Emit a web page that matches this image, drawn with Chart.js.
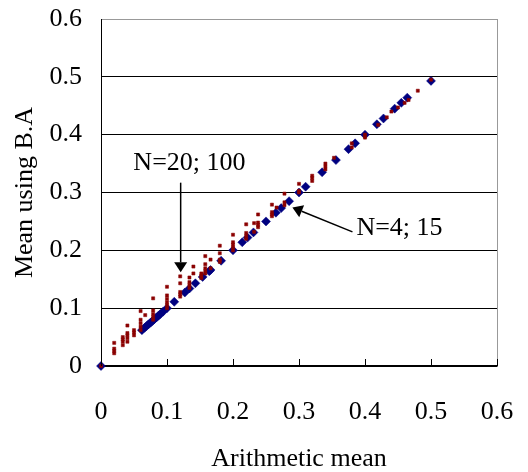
<!DOCTYPE html>
<html>
<head>
<meta charset="utf-8">
<script src="https://cdn.jsdelivr.net/npm/chart.js@4/dist/chart.umd.min.js"></script>
<style>
  html, body { margin: 0; padding: 0; background: #fff; }
  #wrap { width: 528px; height: 472px; }
</style>
</head>
<body>
<div id="wrap"><canvas id="meanChart" width="528" height="472"></canvas></div>
<script>
// valores
const tickValues = [0, 0.1, 0.2, 0.3, 0.4, 0.5, 0.6];

// N=4; 15 (losangos azuis, sobre a diagonal)
const blueX = [0, 0.062, 0.066, 0.069, 0.072, 0.075, 0.078, 0.081, 0.084, 0.087, 0.09, 0.094, 0.1,
  0.111, 0.127, 0.134, 0.143, 0.154, 0.164, 0.166, 0.182, 0.2, 0.214, 0.222, 0.231, 0.25,
  0.265, 0.273, 0.285, 0.3, 0.31, 0.335, 0.356, 0.375, 0.385, 0.4, 0.418, 0.428, 0.445,
  0.455, 0.464, 0.5];
const blueY = [0, 0.062, 0.066, 0.069, 0.072, 0.075, 0.078, 0.081, 0.084, 0.087, 0.09, 0.094, 0.1,
  0.111, 0.127, 0.134, 0.143, 0.154, 0.164, 0.166, 0.182, 0.2, 0.214, 0.222, 0.231, 0.25,
  0.265, 0.273, 0.285, 0.3, 0.31, 0.335, 0.356, 0.375, 0.385, 0.4, 0.418, 0.428, 0.445,
  0.455, 0.464, 0.493];

// N=20; 100 (traços vermelhos) - uma coluna de x com os seus valores de y
const redX = [0, 0.02, 0.033, 0.04, 0.05, 0.06, 0.067, 0.079, 0.1, 0.12, 0.134, 0.14, 0.152,
  0.158, 0.166, 0.18, 0.2, 0.22, 0.232, 0.238, 0.259, 0.266, 0.278, 0.3, 0.32, 0.34, 0.353,
  0.38, 0.4, 0.42, 0.433, 0.44, 0.45, 0.46, 0.466, 0.48, 0.5];
const redY = [
  [0],
  [0.022, 0.026, 0.03, 0.04],
  [0.036, 0.042, 0.046, 0.05],
  [0.042, 0.048, 0.053, 0.057, 0.07],
  [0.053, 0.058, 0.062],
  [0.062, 0.068, 0.074, 0.08, 0.095],
  [0.088],
  [0.08, 0.085, 0.09, 0.096, 0.117],
  [0.1, 0.105, 0.11, 0.116, 0.122, 0.137],
  [0.12, 0.124, 0.128, 0.143, 0.155],
  [0.135, 0.14, 0.145, 0.153],
  [0.16, 0.172],
  [0.152, 0.156, 0.16],
  [0.16, 0.164, 0.169, 0.176, 0.19],
  [0.169, 0.184],
  [0.18, 0.184, 0.195, 0.208],
  [0.2, 0.205, 0.21, 0.214, 0.227],
  [0.22, 0.225, 0.23, 0.245],
  [0.232, 0.247],
  [0.24, 0.244, 0.248, 0.262],
  [0.259, 0.262, 0.266, 0.279],
  [0.274],
  [0.278, 0.283, 0.298],
  [0.3, 0.303, 0.315],
  [0.32, 0.325, 0.329],
  [0.34, 0.345, 0.35],
  [0.36],
  [0.378, 0.385],
  [0.395, 0.4],
  [0.417],
  [0.43],
  [0.44],
  [0.447],
  [0.455],
  [0.46],
  [0.476],
  [0.495],
];

// anotações (em unidades dos eixos)
const noteLabels = ["N=20; 100", "N=4; 15"];
const noteText = [[0.134, 0.35], [0.387, 0.238]];
const noteTail = [[0.1207, 0.317], [0.381, 0.232]];
const noteTip = [[0.1207, 0.162], [0.29, 0.274]];

const FONT = "'Liberation Serif', 'Times New Roman', serif";

document.addEventListener("DOMContentLoaded", () => {
  const ctx = document.getElementById("meanChart");

  const bluePoints = blueX.map((x, i) => ({ x: x, y: blueY[i] }));
  const redPoints = [];
  redX.forEach((x, i) => redY[i].forEach((y) => redPoints.push({ x: x, y: y })));

  // marcas de escala para dentro + setas e textos
  const extras = {
    id: "extras",
    afterDraw(chart) {
      const c = chart.ctx;
      const xs = chart.scales.x;
      const ys = chart.scales.y;
      const area = chart.chartArea;
      c.save();
      c.strokeStyle = "#000";
      c.lineWidth = 1;
      tickValues.forEach((v) => {
        const px = Math.round(xs.getPixelForValue(v)) + 0.5;
        c.beginPath();
        c.moveTo(px, area.bottom);
        c.lineTo(px, area.bottom - 7);
        c.stroke();
      });

      c.fillStyle = "#000";
      c.font = "26px " + FONT;
      c.textBaseline = "middle";
      noteLabels.forEach((label, i) => {
        c.textAlign = i === 0 ? "center" : "left";
        c.fillText(label, xs.getPixelForValue(noteText[i][0]), ys.getPixelForValue(noteText[i][1]));

        const x0 = xs.getPixelForValue(noteTail[i][0]);
        const y0 = ys.getPixelForValue(noteTail[i][1]);
        const x1 = xs.getPixelForValue(noteTip[i][0]);
        const y1 = ys.getPixelForValue(noteTip[i][1]);
        const ang = Math.atan2(y1 - y0, x1 - x0);
        const headLen = 10;
        const headHalf = 6.5;
        const bx = x1 - headLen * Math.cos(ang);
        const by = y1 - headLen * Math.sin(ang);
        c.lineWidth = 1.5;
        c.beginPath();
        c.moveTo(x0, y0);
        c.lineTo(bx, by);
        c.stroke();
        c.beginPath();
        c.moveTo(x1, y1);
        c.lineTo(bx + headHalf * Math.sin(ang), by - headHalf * Math.cos(ang));
        c.lineTo(bx - headHalf * Math.sin(ang), by + headHalf * Math.cos(ang));
        c.closePath();
        c.fill();
      });
      c.restore();
    },
  };

  const config = {
    type: "scatter",
    data: {
      datasets: [
        {
          label: "N=4; 15",
          data: bluePoints,
          pointStyle: "rectRot",
          pointRadius: 4.5,
          backgroundColor: "#000080",
          borderColor: "#000080",
          borderWidth: 0.5,
          clip: false,
          order: 2,
        },
        {
          label: "N=20; 100",
          data: redPoints,
          pointStyle: "rect",
          pointRadius: 2.2,
          backgroundColor: "#8b0000",
          borderColor: "#8b0000",
          borderWidth: 0.5,
          clip: false,
          order: 1,
        },
      ],
    },
    options: {
      responsive: false,
      animation: false,
      layout: { padding: { top: 19, right: 31, bottom: 0, left: 0 } },
      plugins: {
        legend: { display: false },
        tooltip: { enabled: false },
      },
      scales: {
        x: {
          type: "linear",
          min: 0,
          max: 0.6,
          afterBuildTicks: (axis) => { axis.ticks = tickValues.map((v) => ({ value: v })); },
          afterFit: (axis) => {
            axis.height = 106;
            axis.paddingLeft = 0;
            axis.paddingRight = 0;
          },
          grid: {
            drawTicks: false,
            color: (c) => (c.tick && c.tick.value === 0.6 ? "#999" : "rgba(0,0,0,0)"),
          },
          border: { color: "#000", width: 1.5 },
          ticks: {
            padding: 31,
            color: "#000",
            font: { family: FONT, size: 26 },
            maxRotation: 0,
            callback: (v) => String(v),
          },
          title: {
            display: true,
            text: "Arithmetic mean",
            color: "#000",
            font: { family: FONT, size: 26, lineHeight: 1 },
            padding: { top: 0, bottom: 0 },
          },
        },
        y: {
          type: "linear",
          min: 0,
          max: 0.6,
          afterBuildTicks: (axis) => { axis.ticks = tickValues.map((v) => ({ value: v })); },
          afterFit: (axis) => {
            axis.width = 101;
            axis.paddingTop = 0;
            axis.paddingBottom = 0;
          },
          grid: {
            drawTicks: false,
            color: (c) => (c.tick && c.tick.value === 0.6 ? "#999" : "#000"),
          },
          border: { color: "#000", width: 1 },
          ticks: {
            padding: 19,
            color: "#000",
            font: { family: FONT, size: 26 },
            callback: (v) => String(v),
          },
          title: {
            display: true,
            text: "Mean using B.A",
            color: "#000",
            font: { family: FONT, size: 26 },
            padding: { top: 10, bottom: 0 },
          },
        },
      },
    },
    plugins: [extras],
  };

  const meanChart = new Chart(ctx, config);
});
</script>
</body>
</html>
